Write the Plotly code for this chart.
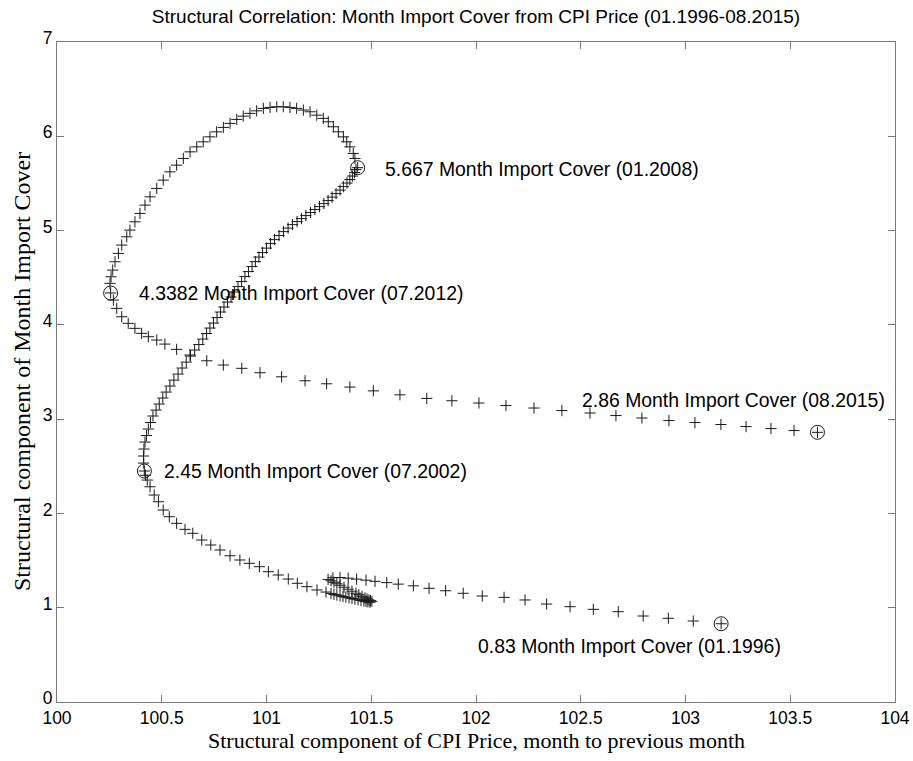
import plotly.graph_objects as go

# ---- data: structural components, monthly 01.1996 .. 08.2015 ----
cpi_x = [
    # 01.1996 -> tangle
    103.17, 103.037, 102.918, 102.798, 102.679, 102.560, 102.449, 102.337, 102.234, 102.134,
    102.030, 101.939, 101.855, 101.776, 101.701, 101.629, 101.574, 101.518, 101.475, 101.430,
    101.390, 101.351, 101.317, 101.294,
    101.308, 101.322, 101.336, 101.351, 101.370, 101.389, 101.408, 101.427, 101.441, 101.456,
    101.470, 101.480, 101.489, 101.496, 101.503,
    101.494, 101.484, 101.475, 101.465, 101.451, 101.437, 101.422, 101.408, 101.394, 101.379,
    101.365, 101.351, 101.336, 101.322, 101.308,
    101.284, 101.241, 101.193, 101.147, 101.104, 101.056, 101.009, 100.966, 100.918, 100.873,
    100.826, 100.778, 100.734, 100.691, 100.648, 100.611, 100.571, 100.536, 100.507, 100.484,
    100.464, 100.444, 100.431, 100.422, 100.417,
    # 07.2002 -> 01.2008
    100.414, 100.413, 100.415, 100.420, 100.427, 100.436, 100.446, 100.458, 100.473, 100.488,
    100.505, 100.521, 100.539, 100.558, 100.578, 100.597, 100.617, 100.637, 100.657, 100.677,
    100.696, 100.714, 100.730, 100.747, 100.764, 100.780, 100.797, 100.814, 100.831, 100.847,
    100.864, 100.881, 100.897, 100.914, 100.931, 100.947, 100.964, 100.981, 101.000, 101.019,
    101.038, 101.060, 101.081, 101.103, 101.124, 101.146, 101.167, 101.188, 101.210, 101.231,
    101.253, 101.274, 101.294, 101.313, 101.332, 101.351, 101.367, 101.384, 101.398, 101.410,
    101.420, 101.427, 101.435,
    # 01.2008 -> 07.2012
    101.422, 101.414, 101.398, 101.383, 101.367, 101.343, 101.319, 101.295, 101.271, 101.240,
    101.208, 101.176, 101.144, 101.112, 101.080, 101.049, 101.017, 100.985, 100.953, 100.921,
    100.889, 100.858, 100.826, 100.794, 100.762, 100.730, 100.698, 100.667, 100.635, 100.603,
    100.571, 100.539, 100.507, 100.476, 100.444, 100.420, 100.396, 100.372, 100.348, 100.333,
    100.309, 100.293, 100.277, 100.266, 100.258, 100.253, 100.256,
    # 07.2012 -> 08.2015
    100.269, 100.285, 100.309, 100.340, 100.372, 100.404, 100.436, 100.476, 100.515, 100.571,
    100.635, 100.715, 100.794, 100.882, 100.969, 101.072, 101.184, 101.287, 101.398, 101.510,
    101.637, 101.765, 101.885, 102.014, 102.143, 102.277, 102.410, 102.544, 102.668, 102.792,
    102.921, 103.045, 103.169, 103.289, 103.408, 103.518, 103.63,
]

cover_y = [
    0.83, 0.859, 0.888, 0.912, 0.958, 0.983, 1.011, 1.039, 1.082, 1.110,
    1.124, 1.153, 1.180, 1.206, 1.232, 1.250, 1.266, 1.280, 1.292, 1.303,
    1.313, 1.320, 1.318, 1.300,
    1.285, 1.270, 1.254, 1.238, 1.217, 1.196, 1.175, 1.154, 1.138, 1.121,
    1.104, 1.093, 1.083, 1.075, 1.068,
    1.058, 1.062, 1.066, 1.070, 1.077, 1.084, 1.091, 1.098, 1.105, 1.112,
    1.119, 1.126, 1.134, 1.141, 1.150,
    1.166, 1.188, 1.223, 1.259, 1.304, 1.347, 1.382, 1.435, 1.471, 1.506,
    1.551, 1.612, 1.665, 1.718, 1.789, 1.831, 1.895, 1.965, 2.036, 2.124,
    2.195, 2.283, 2.354, 2.405, 2.45,
    2.534, 2.609, 2.683, 2.757, 2.826, 2.895, 2.964, 3.033, 3.096, 3.160,
    3.224, 3.287, 3.351, 3.414, 3.478, 3.542, 3.605, 3.669, 3.733, 3.791,
    3.849, 3.908, 3.966, 4.019, 4.077, 4.136, 4.189, 4.242, 4.295, 4.348,
    4.406, 4.459, 4.512, 4.565, 4.618, 4.671, 4.719, 4.767, 4.814, 4.862,
    4.904, 4.947, 4.989, 5.026, 5.063, 5.095, 5.127, 5.159, 5.191, 5.223,
    5.254, 5.286, 5.318, 5.355, 5.392, 5.429, 5.466, 5.504, 5.541, 5.578,
    5.615, 5.647, 5.667,
    5.765, 5.818, 5.888, 5.941, 5.994, 6.047, 6.101, 6.154, 6.190, 6.224,
    6.260, 6.278, 6.296, 6.306, 6.313, 6.313, 6.306, 6.296, 6.270, 6.243,
    6.214, 6.179, 6.137, 6.094, 6.047, 5.994, 5.941, 5.888, 5.835, 5.765,
    5.694, 5.623, 5.535, 5.447, 5.358, 5.270, 5.182, 5.093, 5.005, 4.934,
    4.846, 4.758, 4.669, 4.581, 4.510, 4.440, 4.3382,
    4.263, 4.175, 4.086, 4.016, 3.963, 3.910, 3.874, 3.839, 3.796, 3.740,
    3.680, 3.619, 3.574, 3.539, 3.492, 3.449, 3.407, 3.375, 3.340, 3.300,
    3.258, 3.220, 3.195, 3.171, 3.144, 3.118, 3.091, 3.065, 3.038, 3.012,
    2.985, 2.964, 2.943, 2.921, 2.900, 2.879, 2.86,
]

# highlighted observations
key_dates = ["01.2008", "07.2012", "07.2002", "08.2015", "01.1996"]
key_value_text = ["5.667", "4.3382", "2.45", "2.86", "0.83"]
key_cpi = [101.435, 100.256, 100.417, 103.63, 103.17]
key_cover = [5.667, 4.3382, 2.45, 2.86, 0.83]
label_dx = [25, 26, 18, -237, -245]
label_dy = [-1, 0, 0, 32, -22]

x_ticks = [100, 100.5, 101, 101.5, 102, 102.5, 103, 103.5, 104]
y_ticks = [0, 1, 2, 3, 4, 5, 6, 7]

SANS = "Arial, Liberation Sans, sans-serif"
SERIF = "Times New Roman, Liberation Serif, serif"
AX = "#7a7a7a"

W, H = 913, 761

fig = go.Figure()
fig.add_trace(go.Scatter(
    x=cpi_x, y=cover_y, mode="markers",
    marker=dict(symbol="cross-thin", size=8, color="#1a1a1a",
                line=dict(width=1, color="#1a1a1a")),
    hoverinfo="x+y", showlegend=False))
fig.add_trace(go.Scatter(
    x=key_cpi, y=key_cover, mode="markers",
    marker=dict(symbol="circle-open", size=14, color="#1a1a1a",
                line=dict(width=1, color="#1a1a1a")),
    showlegend=False))

for xv, yv, vt, d, dx, dy in zip(key_cpi, key_cover, key_value_text, key_dates, label_dx, label_dy):
    fig.add_annotation(x=xv, y=yv, xref="x", yref="y",
                       text=f"{vt} Month Import Cover ({d})",
                       showarrow=False, xanchor="left", yanchor="middle",
                       xshift=dx, yshift=dy,
                       font=dict(family=SANS, size=19.4, color="#000"))

fig.add_annotation(x=0.5, y=0, xref="paper", yref="paper",
                   text="Structural component of CPI Price, month to previous month",
                   showarrow=False, xanchor="center", yanchor="middle", yshift=-38,
                   font=dict(family=SERIF, size=22, color="#000"))
fig.add_annotation(x=0, y=0.5, xref="paper", yref="paper",
                   text="Structural component of Month Import Cover",
                   showarrow=False, xanchor="center", yanchor="middle", xshift=-35,
                   textangle=-90,
                   font=dict(family=SERIF, size=24, color="#000"))

axis_common = dict(showline=True, linecolor=AX, linewidth=1, mirror="ticks",
                   ticks="inside", ticklen=7, tickcolor=AX, tickwidth=1,
                   showgrid=False, zeroline=False, automargin=False,
                   tickfont=dict(family=SANS, size=17.5, color="#000"))

fig.update_layout(
    template="none",
    width=W, height=H, autosize=False,
    margin=dict(l=57, r=18, t=42, b=59, pad=0, autoexpand=False),
    paper_bgcolor="white", plot_bgcolor="white",
    title=dict(text="Structural Correlation: Month Import Cover from CPI Price (01.1996-08.2015)",
               x=(57 + (W - 18)) / 2 / W, xanchor="center", y=1 - 16 / H, yanchor="middle",
               yref="container", font=dict(family=SANS, size=19, color="#000")),
    xaxis=dict(range=[100, 104], tickvals=x_ticks,
               ticktext=[f"{v:g}" for v in x_ticks], **axis_common),
    yaxis=dict(range=[0, 7], tickvals=y_ticks, ticklabelshift=-4,
               ticktext=[str(v) for v in y_ticks], **axis_common),
)

fig.write_html(
    "out.html",
    config={"displayModeBar": False},
    post_script="document.body.style.margin='0';document.body.style.overflow='hidden';",
)
